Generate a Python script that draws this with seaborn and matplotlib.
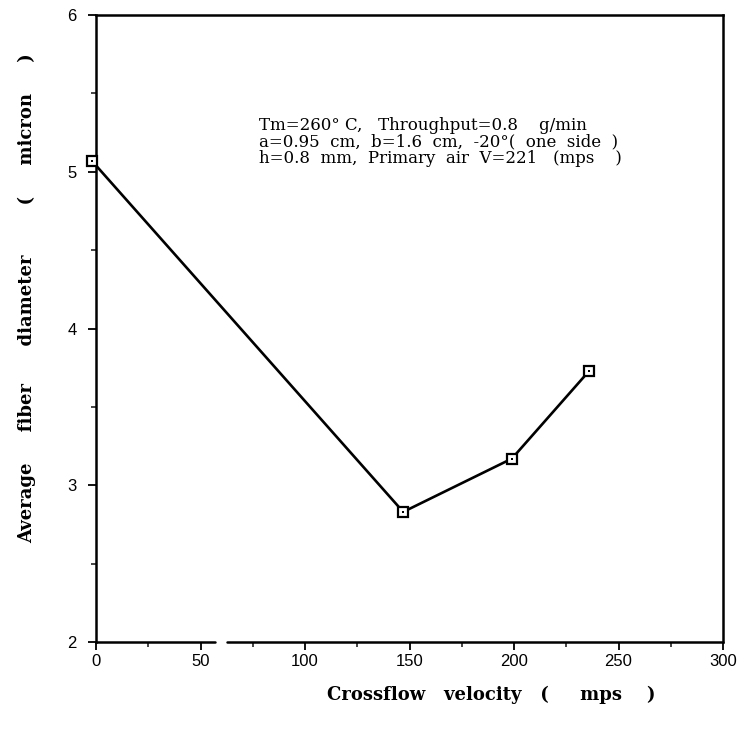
import matplotlib
matplotlib.use("Agg")
import matplotlib.pyplot as plt
import numpy as np
import pandas as pd
import seaborn as sns

# Measured fiber diameter against crossflow velocity
crossflow_velocity = [-2, 147, 199, 236]          # mps
fiber_diameter = [5.07, 2.83, 3.17, 3.73]         # micron

x_ticks = [0, 50, 100, 150, 200, 250, 300]
y_ticks = [2, 3, 4, 5, 6]

conditions = [
    "Tm=260° C,   Throughput=0.8    g/min",
    "a=0.95  cm,  b=1.6  cm,  -20°(  one  side  )",
    "h=0.8  mm,  Primary  air  V=221   (mps    )",
]

df = pd.DataFrame({"velocity": crossflow_velocity, "diameter": fiber_diameter})

sns.set_theme(style="ticks")
plt.rcParams["font.family"] = ["Liberation Sans", "DejaVu Sans"]
plt.rcParams["text.color"] = "black"

fig = plt.figure(figsize=(7.47, 7.45), dpi=100)
ax = fig.add_axes([96 / 747, 1 - 642 / 745, (723 - 96) / 747, (642 - 15) / 745])

sns.lineplot(data=df, x="velocity", y="diameter", ax=ax, color="black",
             linewidth=1.9, marker="s", markersize=7.5, markerfacecolor="white",
             markeredgecolor="black", markeredgewidth=1.6, clip_on=False, zorder=3)
sns.scatterplot(data=df, x="velocity", y="diameter", ax=ax, color="black",
                s=3, marker="s", linewidth=0, clip_on=False, zorder=4)

ax.set_xlim(0, 300)
ax.set_ylim(2, 6)
ax.set_xticks(x_ticks)
ax.set_yticks(y_ticks)
ax.set_xticks(np.arange(25, 300, 50), minor=True)
ax.set_yticks(np.arange(2.5, 6, 1.0), minor=True)
ax.tick_params(axis="both", which="major", direction="out", length=6, width=1.3,
               labelsize=12, colors="black")
ax.tick_params(axis="x", which="major", pad=3)
ax.tick_params(axis="y", which="major", pad=8)
ax.tick_params(axis="both", which="minor", direction="out", length=3.5, width=1.2)

for side in ["left", "right", "top"]:
    ax.spines[side].set_linewidth(1.8)
    ax.spines[side].set_color("black")
# bottom axis line drawn in two pieces with a short break
ax.spines["bottom"].set_visible(False)
ax.axhline(2, xmin=0, xmax=57 / 300, color="black", linewidth=1.8, clip_on=False)
ax.axhline(2, xmin=62.5 / 300, xmax=1, color="black", linewidth=1.8, clip_on=False)

ax.set_xlabel("")
ax.set_ylabel("")

fig.text(491 / 747, 1 - 695 / 745, "Crossflow   velocity   (     mps    )",
         family="DejaVu Serif", fontweight="bold", fontsize=13,
         ha="center", va="center")
fig.text(27 / 747, 1 - 543 / 745,
         "Average     fiber      diameter        (     micron     )",
         family="DejaVu Serif", fontweight="bold", fontsize=13,
         rotation=90, ha="center", va="bottom")

fig.text(259 / 747, 1 - 142 / 745, "\n".join(conditions),
         family="DejaVu Serif", fontsize=12, linespacing=0.97,
         ha="left", va="center")

fig.savefig("out.png", dpi=100)
